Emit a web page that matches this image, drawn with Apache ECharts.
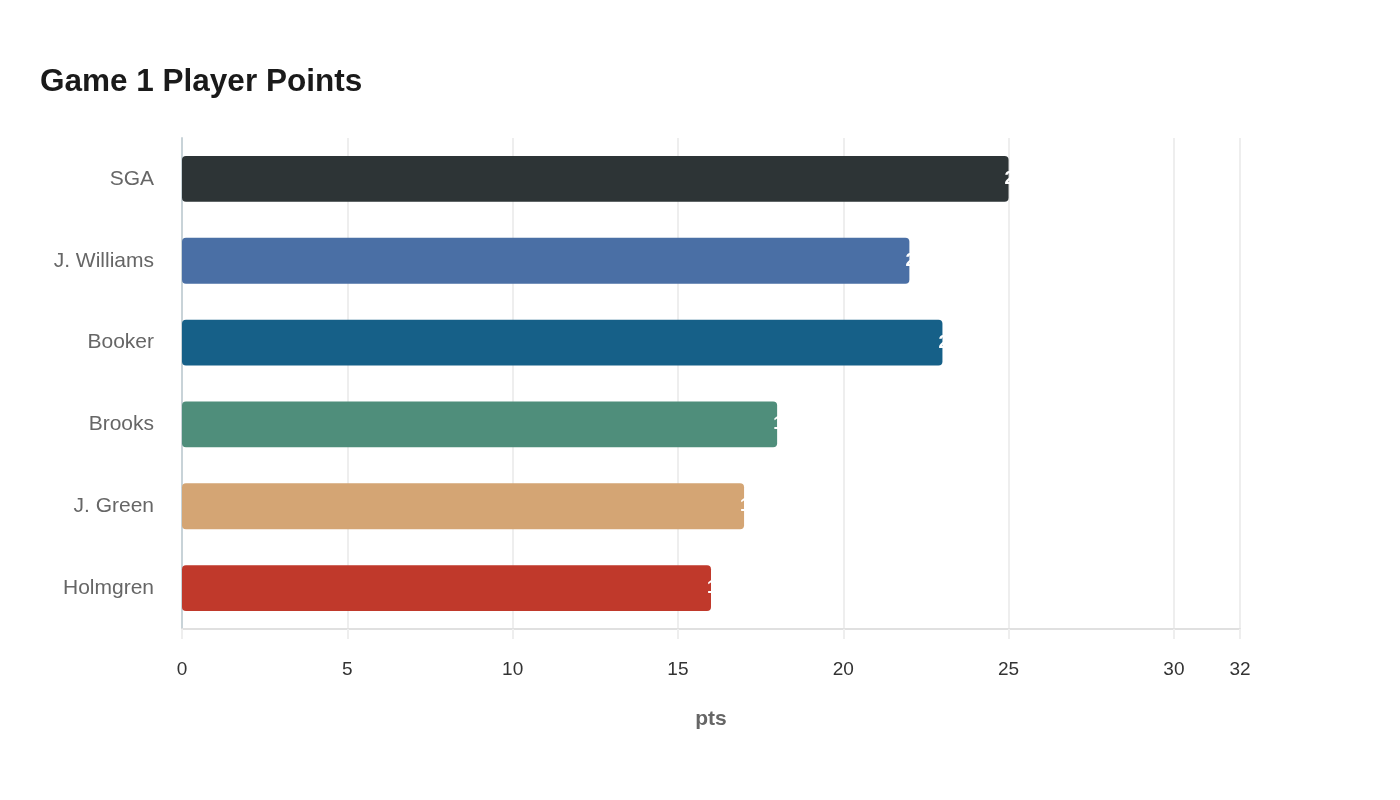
<!DOCTYPE html>
<html>
<head>
<meta charset="utf-8">
<script src="https://cdn.jsdelivr.net/npm/echarts@6/dist/echarts.min.js"></script>
<style>
  html, body { margin: 0; padding: 0; background: #fff; }
  #chart { width: 1400px; height: 800px; }
</style>
</head>
<body>
<div id="chart"></div>
<script>
(function () {
  var players = ['SGA', 'J. Williams', 'Booker', 'Brooks', 'J. Green', 'Holmgren'];
  var points = [25, 22, 23, 18, 17, 16];
  var barColors = ['#2d3436', '#4a6fa5', '#166088', '#4f8e7b', '#d4a574', '#c0392b'];

  var font = "'Liberation Sans', Arial, sans-serif";
  var myChart = echarts.init(document.getElementById('chart'));

  var option = {
    backgroundColor: '#ffffff',
    textStyle: { fontFamily: font },
    title: {
      text: 'Game 1 Player Points',
      left: 35,
      top: 61,
      textStyle: { fontSize: 31.5, fontWeight: 'bold', color: '#1a1a1a', fontFamily: font }
    },
    grid: { left: 182, right: 160, top: 138, bottom: 171 },
    xAxis: {
      type: 'value',
      min: 0,
      max: 32,
      interval: 5,
      name: 'pts',
      nameLocation: 'middle',
      nameGap: 80,
      nameTextStyle: { fontSize: 21, fontWeight: 'bold', color: '#666', fontFamily: font },
      axisLine: { show: true, lineStyle: { color: '#e0e0e0', width: 2 } },
      axisTick: { show: true, length: 10, lineStyle: { color: '#eeeeee', width: 2 } },
      axisLabel: {
        fontSize: 19, color: '#333', margin: 31,
        fontFamily: font,
        showMaxLabel: true
      },
      splitLine: { show: true, lineStyle: { color: '#eeeeee', width: 2 } }
    },
    yAxis: {
      type: 'category',
      data: players,
      inverse: true,
      axisLine: { show: true, lineStyle: { color: '#c8d3d8', width: 2 } },
      axisTick: { show: false },
      axisLabel: { fontSize: 21, color: '#666', margin: 28, padding: [4, 0, 0, 0], fontFamily: font }
    },
    series: [{
      name: 'Points',
      type: 'bar',
      barWidth: '56%',
      data: points.map(function (v, i) {
        return { value: v, itemStyle: { color: barColors[i] } };
      }),
      itemStyle: { borderRadius: 4 },
      label: {
        show: true,
        position: 'right',
        distance: -4,
        color: '#ffffff',
        fontSize: 18,
        fontWeight: 'bold',
        fontFamily: font
      }
    }]
  };

  myChart.setOption(option);
  window.addEventListener('resize', function () {
    myChart.resize();
  });
})();
</script>
</body>
</html>
